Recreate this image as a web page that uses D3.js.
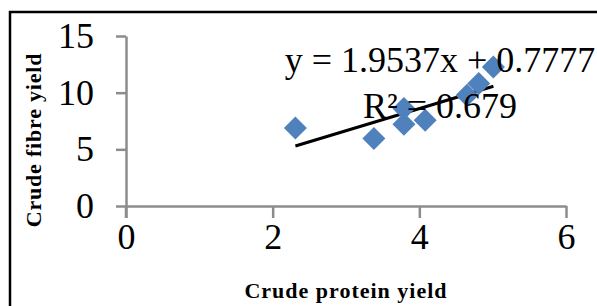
<!DOCTYPE html>
<html>
<head>
<meta charset="utf-8">
<script src="https://cdn.jsdelivr.net/npm/d3@7"></script>
<style>
  body { margin: 0; background: #fff; }
  svg { display: block; font-family: "Liberation Serif", "Times New Roman", serif; }
</style>
</head>
<body>
<div id="chart"></div>
<script>
// Data
const proteinYield = [2.31, 3.38, 3.79, 3.79, 4.08, 4.65, 4.81, 5.01];
const fibreYield   = [6.88, 5.95, 8.60, 7.21, 7.56, 9.77, 10.80, 12.27];
const xTicks = [0, 2, 4, 6];
const yTicks = [0, 5, 10, 15];
const trendSlope = 1.9537;
const trendIntercept = 0.7777;
const trendLabel = "y = 1.9537x + 0.7777";
const r2Label = "R² = 0.679";

const width = 597, height = 306;
const margin = { top: 36, right: 31, bottom: 100, left: 126 };
const plotW = width - margin.left - margin.right;   // 440
const plotH = height - margin.top - margin.bottom;  // 170

const svg = d3.select("#chart").append("svg")
    .attr("width", width)
    .attr("height", height);

// Outer chart frame (right and bottom edges fall outside the picture)
svg.append("rect")
    .attr("x", 10).attr("y", 12)
    .attr("width", 620).attr("height", 320)
    .attr("fill", "none")
    .attr("stroke", "#000")
    .attr("stroke-width", 2.5);

const g = svg.append("g")
    .attr("transform", `translate(${margin.left},${margin.top})`);

const x = d3.scaleLinear().domain([0, 6]).range([0, plotW]);
const y = d3.scaleLinear().domain([0, 15]).range([plotH, 0]);

// Axes
const xAxis = g.append("g")
    .attr("transform", `translate(0,${plotH})`)
    .call(d3.axisBottom(x).tickValues(xTicks).tickFormat(d3.format("d"))
        .tickSize(12).tickSizeOuter(0).tickPadding(5));
const yAxis = g.append("g")
    .call(d3.axisLeft(y).tickValues(yTicks).tickFormat(d3.format("d"))
        .tickSize(10).tickSizeOuter(0).tickPadding(22));

[xAxis, yAxis].forEach(a => {
    a.select(".domain").attr("stroke", "#8c8c8c").attr("stroke-width", 2.5);
    a.selectAll(".tick line").attr("stroke", "#8c8c8c").attr("stroke-width", 2.5);
    a.selectAll("text")
        .attr("fill", "#000")
        .style("font-family", "'Liberation Serif', 'Times New Roman', serif")
        .style("font-size", "36px");
});
// extend the y axis line down to the tick length like the original
g.append("line")
    .attr("x1", 0).attr("x2", 0)
    .attr("y1", plotH).attr("y2", plotH + 12)
    .attr("stroke", "#8c8c8c").attr("stroke-width", 2.5);
yAxis.selectAll("text").attr("dy", "0.32em");

// Trend line
const xMin = d3.min(proteinYield), xMax = d3.max(proteinYield);
g.append("line")
    .attr("x1", x(xMin)).attr("y1", y(trendSlope * xMin + trendIntercept))
    .attr("x2", x(xMax)).attr("y2", y(trendSlope * xMax + trendIntercept))
    .attr("stroke", "#000")
    .attr("stroke-width", 3);

// Points (diamonds)
const diamond = d3.symbol().type(d3.symbolSquare).size(265);
g.selectAll(".pt")
    .data(proteinYield.map((v, i) => ({ x: v, y: fibreYield[i] })))
    .enter()
    .append("path")
    .attr("class", "pt")
    .attr("d", diamond)
    .attr("transform", d => `translate(${x(d.x)},${y(d.y)}) rotate(45)`)
    .attr("fill", "#4f81bd");

// Trend equation labels
svg.append("text")
    .attr("x", 440).attr("y", 72)
    .attr("text-anchor", "middle")
    .style("font-size", "36px")
    .text(trendLabel);
svg.append("text")
    .attr("x", 440).attr("y", 118)
    .attr("text-anchor", "middle")
    .style("font-size", "36px")
    .text(r2Label);

// Axis titles
svg.append("text")
    .attr("x", 346).attr("y", 298)
    .attr("text-anchor", "middle")
    .style("font-size", "22px")
    .style("font-weight", "bold")
    .style("letter-spacing", "1px")
    .text("Crude protein yield");

svg.append("text")
    .attr("transform", "translate(41,140) rotate(-90)")
    .attr("text-anchor", "middle")
    .style("font-size", "22px")
    .style("font-weight", "bold")
    .style("letter-spacing", "0.8px")
    .text("Crude fibre yield");
</script>
</body>
</html>
